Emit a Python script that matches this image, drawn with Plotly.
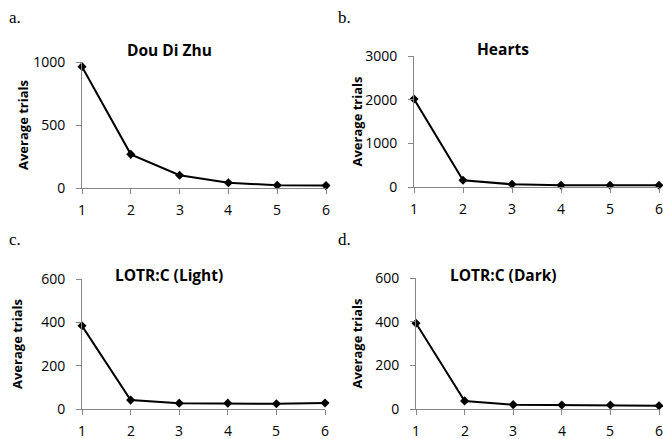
import plotly.graph_objects as go

x_vals = [1, 2, 3, 4, 5, 6]
dou_di_zhu = [963, 267, 101, 42, 21, 19]
hearts = [2015, 153, 62, 39, 39, 39]
lotr_light = [384, 41, 27, 27, 24, 28]
lotr_dark = [393, 37, 20, 18, 18, 15]

titles = ["Dou Di Zhu", "Hearts", "LOTR:C (Light)", "LOTR:C (Dark)"]
labels = ["a.", "b.", "c.", "d."]
y_title = "Average trials"
series = [dou_di_zhu, hearts, lotr_light, lotr_dark]
y_ranges = [[0, 1000], [0, 3000], [0, 600], [0, 600]]
y_dticks = [500, 1000, 200, 200]

W, H = 663, 439
# plot-area boxes in pixels: (left, right, top, bottom)
boxes = [(82, 326, 62, 188), (414, 659, 56, 187), (82, 325, 279, 409), (416, 659, 278, 409)]
label_pos = [(7, 18), (336, 18), (7, 239), (336, 239)]
title_pos = [(170, 50), (503, 49), (169, 275), (503, 275)]
ytitle_x = [23, 356, 17, 356]

FONT = "Open Sans, Lato, sans-serif"
fig = go.Figure()
layout = {}
annotations = []
for i in range(4):
    l, r, t, b = boxes[i]
    xa = "xaxis" if i == 0 else f"xaxis{i+1}"
    ya = "yaxis" if i == 0 else f"yaxis{i+1}"
    xr = "x" if i == 0 else f"x{i+1}"
    yr = "y" if i == 0 else f"y{i+1}"
    fig.add_trace(go.Scatter(
        x=x_vals, y=series[i], xaxis=xr, yaxis=yr, mode="lines+markers",
        line=dict(color="black", width=2),
        marker=dict(symbol="diamond", size=7, color="black"),
        cliponaxis=False, showlegend=False))
    layout[xa] = dict(
        domain=[l / W, r / W], anchor=yr, range=[1, 6], tickmode="array",
        tickvals=x_vals, showticklabels=False,
        showgrid=False, zeroline=False, showline=True, linecolor="#868686",
        linewidth=1, ticks="outside", ticklen=5, tickcolor="#868686",
        automargin=False, fixedrange=True)
    layout[ya] = dict(
        domain=[1 - b / H, 1 - t / H], anchor=xr, range=y_ranges[i],
        dtick=y_dticks[i], tick0=0,
        showgrid=False, zeroline=False, showline=True, linecolor="#868686",
        linewidth=1, ticks="outside", ticklen=5, tickcolor="#868686",
        tickfont=dict(family=FONT, size=14, color="black"),
        ticklabelstandoff=8, automargin=False, fixedrange=True)
    # x tick labels (drawn as text at the axis' own tick values)
    for v in x_vals:
        annotations.append(dict(
            text=str(v), xref=xr, yref="paper", x=v, y=1 - (b + 21) / H,
            xanchor="center", yanchor="middle", showarrow=False,
            font=dict(family=FONT, size=14, color="black")))
    tx, ty = title_pos[i]
    annotations.append(dict(
        text=f"<b>{titles[i]}</b>", xref="paper", yref="paper",
        x=tx / W, y=1 - ty / H, xanchor="center", yanchor="middle",
        showarrow=False, font=dict(family=FONT, size=15.5, color="black")))
    annotations.append(dict(
        text=f"<b>{y_title}</b>", xref="paper", yref="paper",
        x=ytitle_x[i] / W, y=1 - ((t + b) / 2) / H, xanchor="center", yanchor="middle",
        textangle=-90, showarrow=False, font=dict(family=FONT, size=13, color="black")))
    lx, ly = label_pos[i]
    annotations.append(dict(
        text=labels[i], xref="paper", yref="paper", x=lx / W, y=1 - ly / H,
        xanchor="left", yanchor="middle", showarrow=False,
        font=dict(family="Liberation Serif, Times New Roman, serif", size=17, color="black")))

fig.update_layout(
    width=W, height=H, margin=dict(l=0, r=0, t=0, b=0, autoexpand=False),
    paper_bgcolor="white", plot_bgcolor="white",
    annotations=annotations, **layout)

fig.write_html("out.html")
